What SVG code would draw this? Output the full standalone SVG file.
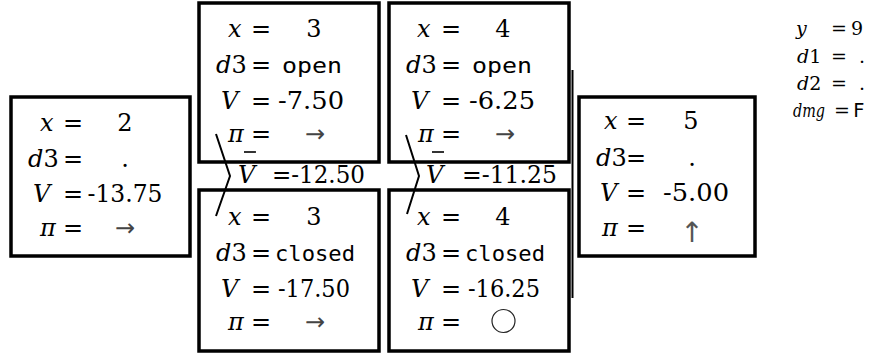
<svg xmlns="http://www.w3.org/2000/svg" width="873" height="354" viewBox="0 0 873 354">
<style>
.box{fill:none;stroke:#000;stroke-width:3.5}
.ln{fill:none;stroke:#000;stroke-width:2}
.bar{stroke:#000;stroke-width:1.6}
.i{font-style:italic}
.m{font-family:'DejaVu Sans Mono','Liberation Mono',monospace;font-size:22px}
.c{text-anchor:middle}
.sym{fill:#444;font-family:'DejaVu Sans',sans-serif;font-size:24px}
.up{font-size:28px;fill:#555}
.leg{font-size:19px}
.legm{font-family:'DejaVu Sans Mono',monospace;font-size:19px}
</style>
<rect width="873" height="354" fill="#fff"/>
<g font-family="'DejaVu Serif', 'Liberation Serif', serif" font-size="24" fill="#000">
<g id="connectors">
<polyline class="ln" points="216,134 230,176 216,216"/>
<polyline class="ln" points="406,135 419,176 407,214"/>
<line class="ln" x1="572.5" y1="70" x2="572.5" y2="298" stroke-width="2.5"/>
<text y="183"><tspan x="238" class="i">V</tspan><tspan x="272" textLength="93" lengthAdjust="spacingAndGlyphs">=-12.50</tspan></text>
<line class="bar" x1="244" y1="152" x2="256" y2="152"/>
<text y="183"><tspan x="426" class="i">V</tspan><tspan x="462" textLength="95" lengthAdjust="spacingAndGlyphs">=-11.25</tspan></text>
<line class="bar" x1="432" y1="152" x2="444" y2="152"/>
</g>
<g id="n1">
<rect class="box" x="11" y="97" width="179" height="159"/>
<text x="40" y="131" class="i">x</text><text x="73" y="131" class="c">=</text><text x="125" y="131" class="c">2</text>
<text x="28" y="167"><tspan class="i">d</tspan>3</text><text x="73" y="167" class="c">=</text><text x="125" y="167" class="c">.</text>
<text x="33" y="202" class="i">V</text><text x="73" y="202" class="c">=</text><text x="125" y="202" class="c" textLength="75" lengthAdjust="spacingAndGlyphs">-13.75</text>
<text x="40" y="236" class="i">π</text><text x="73" y="236" class="c">=</text><text x="125" y="236" class="c sym">→</text>
</g>
<g id="n2">
<rect class="box" x="199" y="3" width="180" height="159"/>
<text x="228" y="37" class="i">x</text><text x="261" y="37" class="c">=</text><text x="314" y="37" class="c">3</text>
<text x="216" y="73"><tspan class="i">d</tspan>3</text><text x="261" y="73" class="c">=</text><text x="312" y="73" class="c m" textLength="60" lengthAdjust="spacingAndGlyphs">open</text>
<text x="221" y="109" class="i">V</text><text x="261" y="109" class="c">=</text><text x="311" y="109" class="c" textLength="66" lengthAdjust="spacingAndGlyphs">-7.50</text>
<text x="228" y="142" class="i">π</text><text x="261" y="142" class="c">=</text><text x="315" y="142" class="c sym">→</text>
</g>
<g id="n3">
<rect class="box" x="199" y="190" width="180" height="161"/>
<text x="228" y="225" class="i">x</text><text x="261" y="225" class="c">=</text><text x="314" y="225" class="c">3</text>
<text x="216" y="261"><tspan class="i">d</tspan>3</text><text x="261" y="261" class="c">=</text><text x="315" y="261" class="c m" textLength="80" lengthAdjust="spacingAndGlyphs">closed</text>
<text x="221" y="297" class="i">V</text><text x="261" y="297" class="c">=</text><text x="314" y="297" class="c" textLength="72" lengthAdjust="spacingAndGlyphs">-17.50</text>
<text x="228" y="330" class="i">π</text><text x="261" y="330" class="c">=</text><text x="315" y="330" class="c sym">→</text>
</g>
<g id="n4">
<rect class="box" x="389" y="3" width="180" height="159"/>
<text x="417" y="37" class="i">x</text><text x="451" y="37" class="c">=</text><text x="503" y="37" class="c">4</text>
<text x="406" y="73"><tspan class="i">d</tspan>3</text><text x="451" y="73" class="c">=</text><text x="502" y="73" class="c m" textLength="60" lengthAdjust="spacingAndGlyphs">open</text>
<text x="411" y="109" class="i">V</text><text x="451" y="109" class="c">=</text><text x="502" y="109" class="c" textLength="66" lengthAdjust="spacingAndGlyphs">-6.25</text>
<text x="418" y="142" class="i">π</text><text x="451" y="142" class="c">=</text><text x="505" y="142" class="c sym">→</text>
</g>
<g id="n5">
<rect class="box" x="389" y="190" width="180" height="161"/>
<text x="417" y="225" class="i">x</text><text x="451" y="225" class="c">=</text><text x="503" y="225" class="c">4</text>
<text x="406" y="261"><tspan class="i">d</tspan>3</text><text x="451" y="261" class="c">=</text><text x="505" y="261" class="c m" textLength="80" lengthAdjust="spacingAndGlyphs">closed</text>
<text x="411" y="297" class="i">V</text><text x="451" y="297" class="c">=</text><text x="504" y="297" class="c" textLength="72" lengthAdjust="spacingAndGlyphs">-16.25</text>
<text x="418" y="330" class="i">π</text><text x="451" y="330" class="c">=</text>
<circle cx="503.5" cy="321" r="11.5" fill="none" stroke="#222" stroke-width="1.2"/>
</g>
<g id="n6">
<rect class="box" x="579" y="97" width="176" height="159"/>
<text x="604" y="129" class="i">x</text><text x="636" y="129" class="c">=</text><text x="691" y="129" class="c">5</text>
<text x="596" y="166"><tspan class="i">d</tspan>3</text><text x="636" y="166" class="c">=</text><text x="692" y="166" class="c">.</text>
<text x="600" y="201" class="i">V</text><text x="636" y="201" class="c">=</text><text x="696" y="201" class="c" textLength="66" lengthAdjust="spacingAndGlyphs">-5.00</text>
<text x="602" y="236" class="i">π</text><text x="636" y="236" class="c">=</text><text x="692" y="242" class="c sym up">↑</text>
</g>
<g id="legend">
<text x="796" y="35" class="leg i">y</text><text x="839" y="35" class="leg c">=</text><text x="851" y="35" class="leg">9</text>
<text x="797" y="63" class="leg"><tspan class="i">d</tspan>1</text><text x="839" y="63" class="leg c">=</text><text x="859" y="63" class="leg">.</text>
<text x="797" y="90" class="leg"><tspan class="i">d</tspan>2</text><text x="839" y="90" class="leg c">=</text><text x="859" y="90" class="leg">.</text>
<text x="793" y="117" class="leg i" textLength="32" lengthAdjust="spacingAndGlyphs">dmg</text><text x="842" y="117" class="leg c" font-size="17">=</text><text x="853" y="117" class="legm">F</text>
</g>
</g>
</svg>
